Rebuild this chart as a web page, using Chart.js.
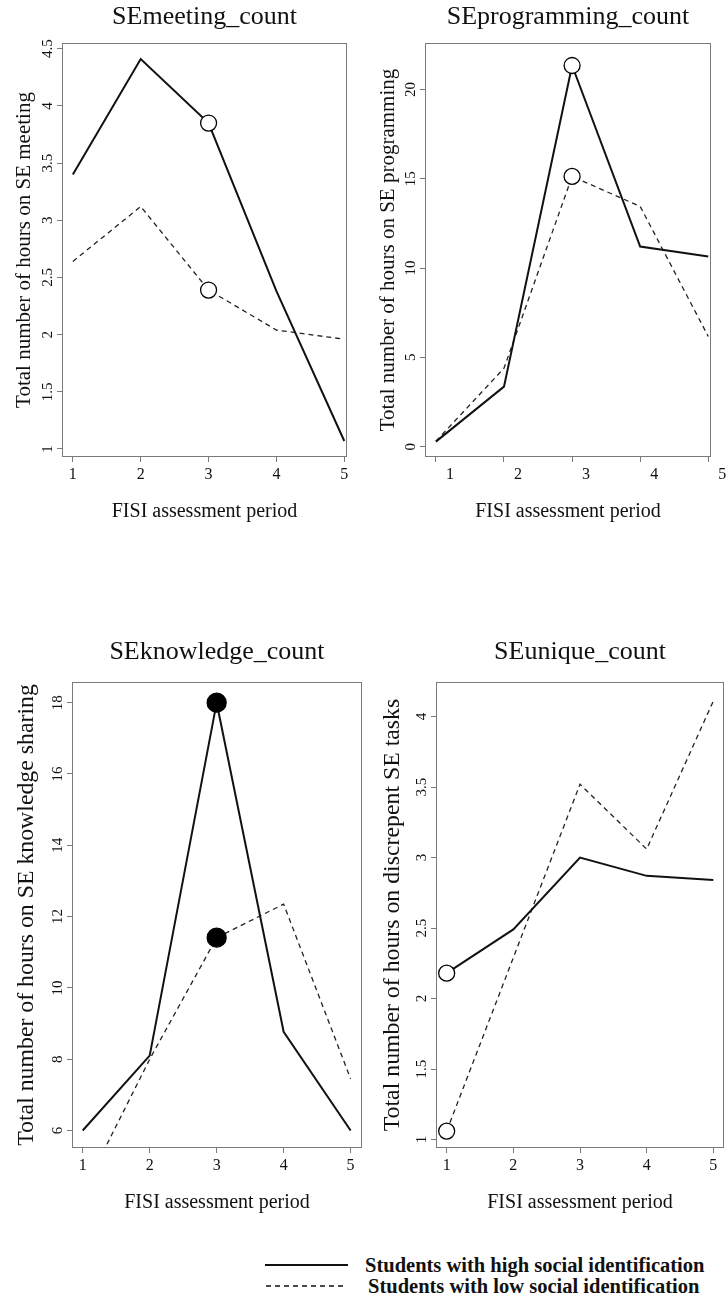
<!DOCTYPE html>
<html>
<head>
<meta charset="utf-8">
<script src="https://cdn.jsdelivr.net/npm/chart.js@4.4.1/dist/chart.umd.min.js"></script>
<style>
  body { margin: 0; background: #fff; width: 726px; height: 1296px; position: relative; overflow: hidden; font-family: 'Liberation Serif', serif; }
  canvas { position: absolute; }
  .legend-line { position: absolute; }
  .legend-text { position: absolute; font: bold 20.5px/22px 'Liberation Serif', serif; color: #111; white-space: nowrap; }
</style>
</head>
<body>
<canvas id="meetingChart" width="363" height="540" style="left:0;top:0"></canvas>
<canvas id="programmingChart" width="363" height="540" style="left:363px;top:0"></canvas>
<canvas id="knowledgeChart" width="363" height="610" style="left:0;top:620px"></canvas>
<canvas id="uniqueChart" width="363" height="610" style="left:363px;top:620px"></canvas>

<svg class="legend-line" width="86" height="10" style="left:265px;top:1260px"><line x1="0" y1="5" x2="83" y2="5" stroke="#111" stroke-width="2"/></svg>
<div class="legend-text" style="left:365px;top:1254px">Students with high social identification</div>
<svg class="legend-line" width="86" height="10" style="left:266px;top:1281px"><line x1="0" y1="5" x2="80" y2="5" stroke="#111" stroke-width="1.3" stroke-dasharray="5 4"/></svg>
<div class="legend-text" style="left:368px;top:1275px">Students with low social identification</div>

<script>
const periods = [1, 2, 3, 4, 5];

const meetingHigh = [3.40, 4.41, 3.85, 2.38, 1.07];
const meetingLow = [2.64, 3.12, 2.39, 2.04, 1.96];
const meetingTicks = [1, 1.5, 2, 2.5, 3, 3.5, 4, 4.5];

const programmingHigh = [0.28, 3.36, 21.34, 11.2, 10.65];
const programmingLow = [0.30, 4.39, 15.13, 13.45, 6.17];
const programmingTicks = [0, 5, 10, 15, 20];

const knowledgeHigh = [6.0, 8.1, 18.0, 8.77, 6.0];
const knowledgeLow = [4.26, 8.0, 11.41, 12.35, 7.45];
const knowledgeTicks = [6, 8, 10, 12, 14, 16, 18];

const uniqueHigh = [2.18, 2.49, 3.0, 2.87, 2.84];
const uniqueLow = [1.06, 2.29, 3.52, 3.06, 4.11];
const uniqueTicks = [1, 1.5, 2, 2.5, 3, 3.5, 4];

const FONT = "'Liberation Serif', serif";
const INK = '#111';
const FRAME = '#7a7a7a';

// frame around the plot area and the rotated y tick labels
const framePlugin = {
    id: 'frame',
    beforeDatasetsDraw(chart) {
        const { ctx, chartArea: a } = chart;
        ctx.save();
        ctx.strokeStyle = FRAME;
        ctx.lineWidth = 1;
        ctx.strokeRect(a.left + 0.5, a.top + 0.5, a.right - a.left - 1, a.bottom - a.top - 1);
        ctx.restore();
    },
    afterDraw(chart) {
        const { ctx } = chart;
        const y = chart.scales.y;
        ctx.save();
        ctx.fillStyle = INK;
        ctx.font = `15px ${FONT}`;
        ctx.textAlign = 'center';
        ctx.textBaseline = 'middle';
        y.ticks.forEach(t => {
            ctx.save();
            ctx.translate(y.right - 14, y.getPixelForValue(t.value));
            ctx.rotate(-Math.PI / 2);
            ctx.fillText(String(t.value), 0, 0);
            ctx.restore();
        });
        ctx.restore();
    }
};

function seriesData(values) {
    return periods.map((p, i) => ({ x: p, y: values[i] }));
}

function markerProps(marked, radius, filled) {
    return {
        pointRadius: periods.map((_, i) => marked.includes(i) ? radius : 0),
        pointHoverRadius: periods.map((_, i) => marked.includes(i) ? radius : 0),
        pointBackgroundColor: filled ? '#000' : '#fff',
        pointBorderColor: '#000',
        pointBorderWidth: 1.3
    };
}

function renderPanel(cfg) {
    const ctx = document.getElementById(cfg.canvasId).getContext('2d');
    const canvas = ctx.canvas;
    const topRow = cfg.row === 0;

    new Chart(ctx, {
        type: 'line',
        data: {
            datasets: [
                Object.assign({
                    data: seriesData(cfg.high),
                    borderColor: INK,
                    borderWidth: 2,
                    tension: 0
                }, markerProps(cfg.marked, cfg.markerRadius, cfg.filled)),
                Object.assign({
                    data: seriesData(cfg.low),
                    borderColor: '#222',
                    borderWidth: 1.3,
                    borderDash: [5, 4],
                    tension: 0
                }, markerProps(cfg.marked, cfg.markerRadius, cfg.filled))
            ]
        },
        options: {
            responsive: false,
            animation: false,
            events: [],
            devicePixelRatio: 1,
            layout: {
                autoPadding: false,
                padding: { left: 0, top: 0, bottom: 0, right: canvas.width - cfg.area.right }
            },
            plugins: {
                legend: { display: false },
                tooltip: { enabled: false },
                title: {
                    display: true,
                    fullSize: false,
                    text: cfg.title,
                    color: INK,
                    font: { family: FONT, size: 26, weight: 'normal', lineHeight: '30px' },
                    padding: topRow ? { top: 2, bottom: 11 } : { top: 17, bottom: 15 }
                }
            },
            scales: {
                x: {
                    type: 'linear',
                    min: cfg.xRange[0],
                    max: cfg.xRange[1],
                    afterBuildTicks: s => { s.ticks = periods.map(v => ({ value: v })); },
                    afterFit: s => {
                        s.height = canvas.height - cfg.area.bottom;
                        s.paddingLeft = 0;
                        s.paddingRight = 0;
                    },
                    grid: { drawOnChartArea: false, drawTicks: true, tickLength: 5, color: FRAME },
                    border: { display: false },
                    ticks: {
                        color: INK,
                        font: { family: FONT, size: 16 },
                        padding: 3,
                        maxRotation: 0,
                        labelOffset: cfg.xLabelOffset || 0
                    },
                    title: {
                        display: true,
                        text: 'FISI assessment period',
                        color: INK,
                        font: { family: FONT, size: 20, lineHeight: '22px' },
                        padding: { top: 0, bottom: topRow ? 17 : 16 }
                    }
                },
                y: {
                    min: cfg.yRange[0],
                    max: cfg.yRange[1],
                    afterBuildTicks: s => { s.ticks = cfg.yTicks.map(v => ({ value: v })); },
                    afterFit: s => {
                        s.width = cfg.area.left;
                        s.paddingTop = 0;
                        s.paddingBottom = 0;
                    },
                    grid: { drawOnChartArea: false, drawTicks: true, tickLength: 5, color: FRAME },
                    border: { display: false },
                    ticks: { display: false },
                    title: {
                        display: true,
                        text: cfg.yTitle,
                        color: INK,
                        font: { family: FONT, size: cfg.yTitleSize, lineHeight: '24px' },
                        padding: { top: cfg.yTitleX - 12, bottom: 0 }
                    }
                }
            }
        },
        plugins: [framePlugin]
    });
}

renderPanel({
    canvasId: 'meetingChart', row: 0,
    title: 'SEmeeting_count',
    yTitle: 'Total number of hours on SE meeting', yTitleSize: 21, yTitleX: 24,
    high: meetingHigh, low: meetingLow, yTicks: meetingTicks,
    marked: [2], markerRadius: 8, filled: false,
    xRange: [0.84, 5.04], yRange: [0.93, 4.55],
    area: { left: 62, right: 347, bottom: 457 }
});

renderPanel({
    canvasId: 'programmingChart', row: 0,
    title: 'SEprogramming_count',
    yTitle: 'Total number of hours on SE programming', yTitleSize: 21, yTitleX: 25,
    high: programmingHigh, low: programmingLow, yTicks: programmingTicks,
    marked: [2], markerRadius: 8, filled: false,
    xRange: [0.84, 5.04], yRange: [-0.58, 22.6], xLabelOffset: 14,
    area: { left: 62, right: 348, bottom: 457 }
});

renderPanel({
    canvasId: 'knowledgeChart', row: 1,
    title: 'SEknowledge_count',
    yTitle: 'Total number of hours on SE knowledge sharing', yTitleSize: 23.8, yTitleX: 27,
    high: knowledgeHigh, low: knowledgeLow, yTicks: knowledgeTicks,
    marked: [2], markerRadius: 9.5, filled: true,
    xRange: [0.84, 5.17], yRange: [5.51, 18.58],
    area: { left: 72, right: 362, bottom: 528 }
});

renderPanel({
    canvasId: 'uniqueChart', row: 1,
    title: 'SEunique_count',
    yTitle: 'Total number of hours on discrepent SE tasks', yTitleSize: 23.8, yTitleX: 30,
    high: uniqueHigh, low: uniqueLow, yTicks: uniqueTicks,
    marked: [0], markerRadius: 8, filled: false,
    xRange: [0.84, 5.16], yRange: [0.94, 4.245],
    area: { left: 73, right: 361, bottom: 528 }
});
</script>
</body>
</html>
